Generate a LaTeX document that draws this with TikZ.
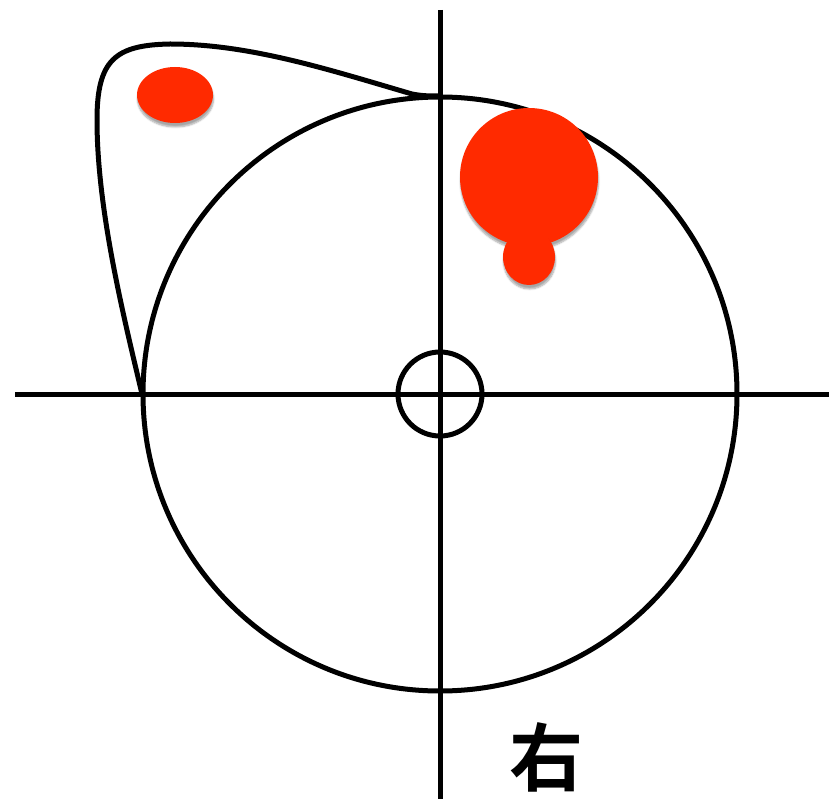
\documentclass[tikz,border=0pt]{standalone}
\usepackage{fontspec}
\newfontfamily\cjk{Noto Sans CJK SC Bold}
\usetikzlibrary{shadows.blur}
\definecolor{dotred}{HTML}{FF2A00}
\tikzset{
  ink/.style={line width=5pt, black},
  reddot/.style={fill=dotred, draw=none, blur shadow={shadow xshift=0.5pt, shadow yshift=-4pt, shadow blur steps=6, shadow opacity=35}}
}
\begin{document}
\begin{tikzpicture}[x=1pt,y=-1pt]
\useasboundingbox (0,0) rectangle (829,799);
% axes
\draw[ink] (15,394) -- (829,394);
\draw[ink] (440,10) -- (440,799);
% circles
\draw[ink] (440,394) circle[radius=297];
\draw[ink] (440,394) circle[radius=42];
% blob
\draw[ink, line join=round] (142,394) .. controls (124,318) and (97,210) .. (97,120)
  .. controls (97,60) and (115,45) .. (170,44)
  .. controls (250,44) and (330,70) .. (412,94)
  .. controls (422,96) and (430,96) .. (440,96);
% red shapes
\fill[reddot] (175,95) ellipse[x radius=38, y radius=28];
\fill[reddot] (529,177) circle[radius=69];
\fill[reddot] (529,257) ellipse[x radius=26, y radius=28];
% label
\node (lbl) at (546,757) {\cjk\fontsize{74}{74}\selectfont 右};
\end{tikzpicture}
\end{document}
